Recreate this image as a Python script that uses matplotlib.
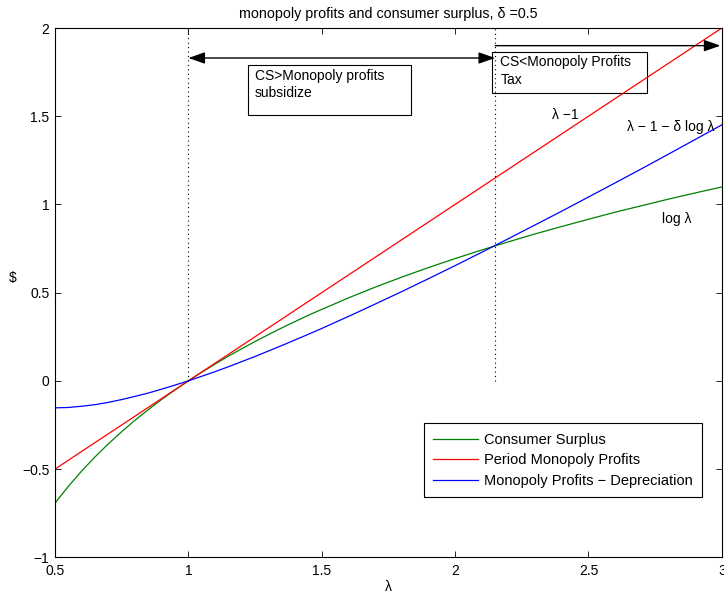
import matplotlib
matplotlib.use("Agg")
import matplotlib.pyplot as plt
from matplotlib.patches import Rectangle

plt.rcParams['font.family'] = ['Liberation Sans', 'DejaVu Sans']
plt.rcParams['font.size'] = 10

# values
lam = [0.5, 0.55, 0.6, 0.65, 0.7, 0.75, 0.8, 0.85, 0.9, 0.95, 1.0, 1.05,
       1.1, 1.15, 1.2, 1.25, 1.3, 1.35, 1.4, 1.45, 1.5, 1.6, 1.7, 1.8, 1.9,
       2.0, 2.1, 2.2, 2.3, 2.4, 2.5, 2.6, 2.7, 2.8, 2.9, 3.0]
consumer_surplus = [-0.693, -0.598, -0.511, -0.431, -0.357, -0.288, -0.223,
                    -0.163, -0.105, -0.051, 0.0, 0.049, 0.095, 0.140, 0.182,
                    0.223, 0.262, 0.300, 0.336, 0.372, 0.405, 0.470, 0.531,
                    0.588, 0.642, 0.693, 0.742, 0.788, 0.833, 0.875, 0.916,
                    0.956, 0.993, 1.030, 1.065, 1.099]
period_profits = [-0.5, -0.45, -0.4, -0.35, -0.3, -0.25, -0.2, -0.15, -0.1,
                  -0.05, 0.0, 0.05, 0.1, 0.15, 0.2, 0.25, 0.3, 0.35, 0.4,
                  0.45, 0.5, 0.6, 0.7, 0.8, 0.9, 1.0, 1.1, 1.2, 1.3, 1.4,
                  1.5, 1.6, 1.7, 1.8, 1.9, 2.0]
profits_less_dep = [-0.153, -0.151, -0.144, -0.135, -0.122, -0.106, -0.088,
                    -0.069, -0.047, -0.024, 0.0, 0.026, 0.052, 0.080, 0.109,
                    0.138, 0.169, 0.200, 0.232, 0.264, 0.297, 0.365, 0.435,
                    0.506, 0.579, 0.653, 0.729, 0.806, 0.884, 0.962, 1.042,
                    1.122, 1.203, 1.285, 1.368, 1.451]
series_names = ['Consumer Surplus', 'Period Monopoly Profits',
                'Monopoly Profits \u2212 Depreciation']
x_ticks = [0.5, 1, 1.5, 2, 2.5, 3]
y_ticks = [-1, -0.5, 0, 0.5, 1, 1.5, 2]
crossing = 2.15

fig = plt.figure(figsize=(7.24, 5.96), dpi=100)
ax = fig.add_axes([0.076, 0.065, 0.921, 0.888])

ax.plot(lam, consumer_surplus, color=(0, 0.5, 0), lw=0.9, label=series_names[0])
ax.plot(lam, period_profits, color='red', lw=0.9, label=series_names[1])
ax.plot(lam, profits_less_dep, color='blue', lw=0.9, label=series_names[2])

# dotted guides
ax.plot([1, 1], [0, 2], color='black', lw=0.8, linestyle=(0, (1, 3)))
ax.plot([crossing, crossing], [0, 2], color='black', lw=0.8, linestyle=(0, (1, 3)))

# arrows
ax.annotate('', xy=(1.0, 1.83), xytext=(crossing, 1.83),
            arrowprops=dict(arrowstyle='<|-|>,head_length=1.0,head_width=0.35',
                            color='black', lw=1, shrinkA=0, shrinkB=0))
ax.annotate('', xy=(2.995, 1.9), xytext=(crossing, 1.9),
            arrowprops=dict(arrowstyle='-|>,head_length=1.0,head_width=0.35',
                            color='black', lw=1, shrinkA=0, shrinkB=0))

# text boxes
ax.add_patch(Rectangle((1.223, 1.508), 0.61, 0.283, fill=False,
                       edgecolor='black', lw=0.8, clip_on=False))
ax.text(1.249, 1.77, 'CS>Monopoly profits\nsubsidize', va='top', ha='left',
        linespacing=1.3)
ax.add_patch(Rectangle((2.14, 1.633), 0.581, 0.231, fill=False,
                       edgecolor='black', lw=0.8, clip_on=False))
ax.text(2.17, 1.845, 'CS<Monopoly Profits\nTax', va='top', ha='left',
        linespacing=1.3)

# curve labels
ax.text(2.365, 1.508, '\u03bb \u22121', va='center', ha='left')
ax.text(2.646, 1.44, '\u03bb \u2212 1 \u2212 \u03b4 log \u03bb', va='center', ha='left')
ax.text(2.777, 0.915, 'log \u03bb', va='center', ha='left')

ax.set_xlim(0.5, 3)
ax.set_ylim(-1, 2)
ax.set_xticks(x_ticks)
ax.set_xticklabels(['0.5', '1', '1.5', '2', '2.5', '3'])
ax.set_yticks(y_ticks)
ax.set_yticklabels(['\u22121', '\u22120.5', '0', '0.5', '1', '1.5', '2'])
ax.tick_params(direction='in', top=True, right=True, length=4, width=0.6)
ax.tick_params(axis='x', pad=5)
ax.tick_params(axis='y', pad=4)
for s in ax.spines.values():
    s.set_linewidth(0.8)

ax.set_xlabel('\u03bb', labelpad=1)
ax.set_ylabel(r'\$', rotation=0, ha='center', va='center')
ax.yaxis.set_label_coords(-0.063, 0.527)
ax.set_title('monopoly profits and consumer surplus, \u03b4 =0.5', pad=7,
             fontsize=10.3)

leg = ax.legend(loc='lower right', bbox_to_anchor=(0.97, 0.113),
                borderaxespad=0, fancybox=False, edgecolor='black',
                framealpha=1, handlelength=3.1, handletextpad=0.35,
                labelspacing=0.45, borderpad=0.65, fontsize=10.5)
leg.get_frame().set_linewidth(0.8)

fig.savefig('out.png', dpi=100)
